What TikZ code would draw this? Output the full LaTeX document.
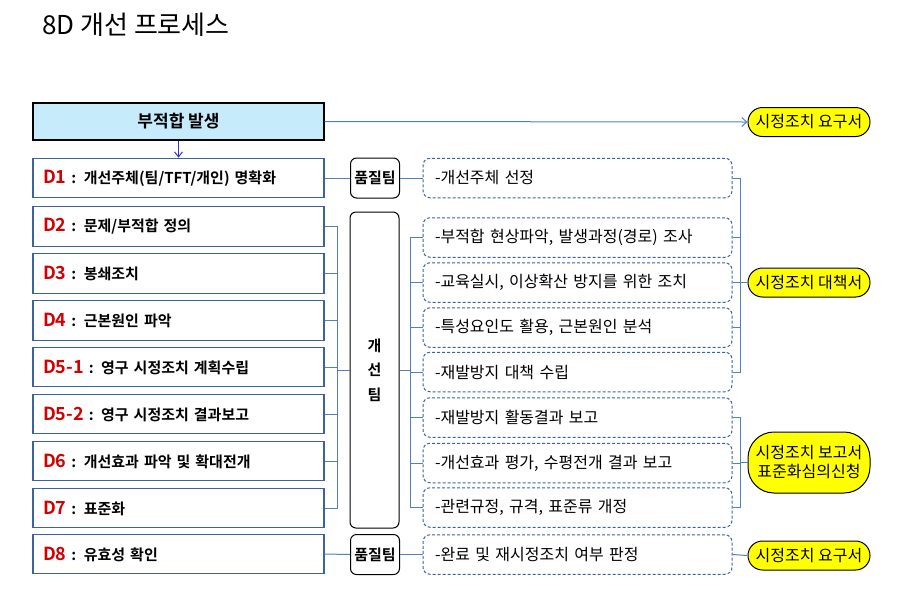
\documentclass[tikz,border=0pt]{standalone}
\usepackage{fontspec}
\setmainfont{Noto Sans CJK KR}[BoldFont={Noto Sans CJK KR Bold}]
\usetikzlibrary{arrows.meta}
\definecolor{lborder}{RGB}{60,100,155}
\definecolor{conn}{RGB}{79,129,189}
\definecolor{topfill}{RGB}{198,236,252}
\definecolor{dred}{RGB}{210,0,0}
\definecolor{arrblue}{RGB}{50,50,220}
\definecolor{yel}{RGB}{255,255,0}
\newcommand{\dlab}[1]{{\color{dred}\fontsize{18}{18}\selectfont #1}}
\tikzset{
  lbox/.style={draw=lborder, line width=1.2pt, rectangle, fill=white, inner xsep=10pt, text width=271pt, align=left, minimum height=39.5pt, font=\bfseries\fontsize{15}{17}\selectfont},
  qbox/.style={draw=black, line width=1pt, rounded corners=6pt, fill=white, minimum width=49pt, minimum height=40pt, inner sep=0pt, font=\bfseries\fontsize{15}{17}\selectfont},
  rbox/.style={draw=lborder, line width=1pt, dash pattern=on 3pt off 2pt, rounded corners=7pt, fill=white, inner xsep=12pt, text width=285pt, align=left, minimum height=39.5pt, font=\fontsize{16}{18}\selectfont},
  ybox/.style={draw=black, line width=1pt, fill=yel, minimum width=122pt, inner sep=0pt, align=center, font=\fontsize{16}{19}\selectfont},
  cline/.style={draw=conn, line width=1pt},
}
\begin{document}
\begin{tikzpicture}[x=1pt,y=-1pt]
\useasboundingbox (0,0) rectangle (901,598);
\node[anchor=west, font=\fontsize{26}{28}\selectfont, inner sep=0pt] (title) at (42,25) {8D 개선 프로세스};

\node[draw=black, line width=1.2pt, fill=topfill, minimum width=291pt, minimum height=37pt, font=\bfseries\fontsize{17}{19}\selectfont] (top) at (178.5,121.5) {부적합 발생};

\node[lbox] (d1) at (178.5,178) {\dlab{D1} : 개선주체(팀/TFT/개인) 명확화};
\node[lbox] (d2) at (178.5,226.5) {\dlab{D2} : 문제/부적합 정의};
\node[lbox] (d3) at (178.5,273.5) {\dlab{D3} : 봉쇄조치};
\node[lbox] (d4) at (178.5,320.5) {\dlab{D4} : 근본원인 파악};
\node[lbox] (d51) at (178.5,367) {\dlab{D5-1} : 영구 시정조치 계획수립};
\node[lbox] (d52) at (178.5,414) {\dlab{D5-2} : 영구 시정조치 결과보고};
\node[lbox] (d6) at (178.5,461) {\dlab{D6} : 개선효과 파악 및 확대전개};
\node[lbox] (d7) at (178.5,508) {\dlab{D7} : 표준화};
\node[lbox] (d8) at (178.5,554) {\dlab{D8} : 유효성 확인};

\node[qbox] (q1) at (375,178) {품질팀};
\node[qbox] (q2) at (375,554.5) {품질팀};
\node[qbox, minimum height=316pt, align=center, font=\bfseries\fontsize{15}{24.5}\selectfont] (team) at (374.5,370) {개\\선\\팀};

\node[rbox] (r1) at (577.5,178) {-개선주체 선정};
\node[rbox] (r2) at (577.5,237.5) {-부적합 현상파악, 발생과정(경로) 조사};
\node[rbox] (r3) at (577.5,282.5) {-교육실시, 이상확산 방지를 위한 조치};
\node[rbox] (r4) at (577.5,327.5) {-특성요인도 활용, 근본원인 분석};
\node[rbox] (r5) at (577.5,372) {-재발방지 대책 수립};
\node[rbox] (r6) at (577.5,417.5) {-재발방지 활동결과 보고};
\node[rbox] (r7) at (577.5,463) {-개선효과 평가, 수평전개 결과 보고};
\node[rbox] (r8) at (577.5,507.5) {-관련규정, 규격, 표준류 개정};
\node[rbox] (r9) at (577.5,554.5) {-완료 및 재시정조치 여부 판정};

\node[ybox, minimum height=29pt, rounded corners=14.5pt] (e1) at (809,122) {시정조치 요구서};
\node[ybox, minimum height=29pt, rounded corners=14.5pt] (e2) at (809,282.5) {시정조치 대책서};
\node[ybox, minimum height=61pt, rounded corners=26pt] (e3) at (809,462.5) {시정조치 보고서\\표준화심의신청};
\node[ybox, minimum height=29pt, rounded corners=14.5pt] (e4) at (809,555.5) {시정조치 요구서};

\coordinate (lj) at (337,370);
\coordinate (rj) at (410,370);
\coordinate (b1) at (740,282.5);
\coordinate (b2) at (740,462.5);

\draw[draw=arrblue, line width=1pt, -{Straight Barb[length=5pt,width=8pt]}] (top.south) -- (d1.north);
\draw[cline, -{Straight Barb[length=5pt,width=9pt]}] (top.east) -- (e1.west);

\draw[cline] (d1.east) -- (q1.west);
\draw[cline] (q1.east) -- (r1.west);
\draw[cline] (d8.east) -- (q2.west);
\draw[cline] (q2.east) -- (r9.west);
\draw[cline] (r9.east) -- (e4.west);

\foreach \n in {d2,d3,d4,d51,d52,d6,d7} { \draw[cline] (\n.east) -| (lj); }
\draw[cline] (lj) -- (team.west);
\draw[cline] (team.east) -- (rj);
\foreach \n in {r2,r3,r4,r5,r6,r7,r8} { \draw[cline] (rj) |- (\n.west); }

\foreach \n in {r1,r2,r3,r4,r5} { \draw[cline] (\n.east) -| (b1); }
\draw[cline] (b1) -- (e2.west);
\foreach \n in {r6,r7,r8} { \draw[cline] (\n.east) -| (b2); }
\draw[cline] (b2) -- (e3.west);
\end{tikzpicture}
\end{document}
